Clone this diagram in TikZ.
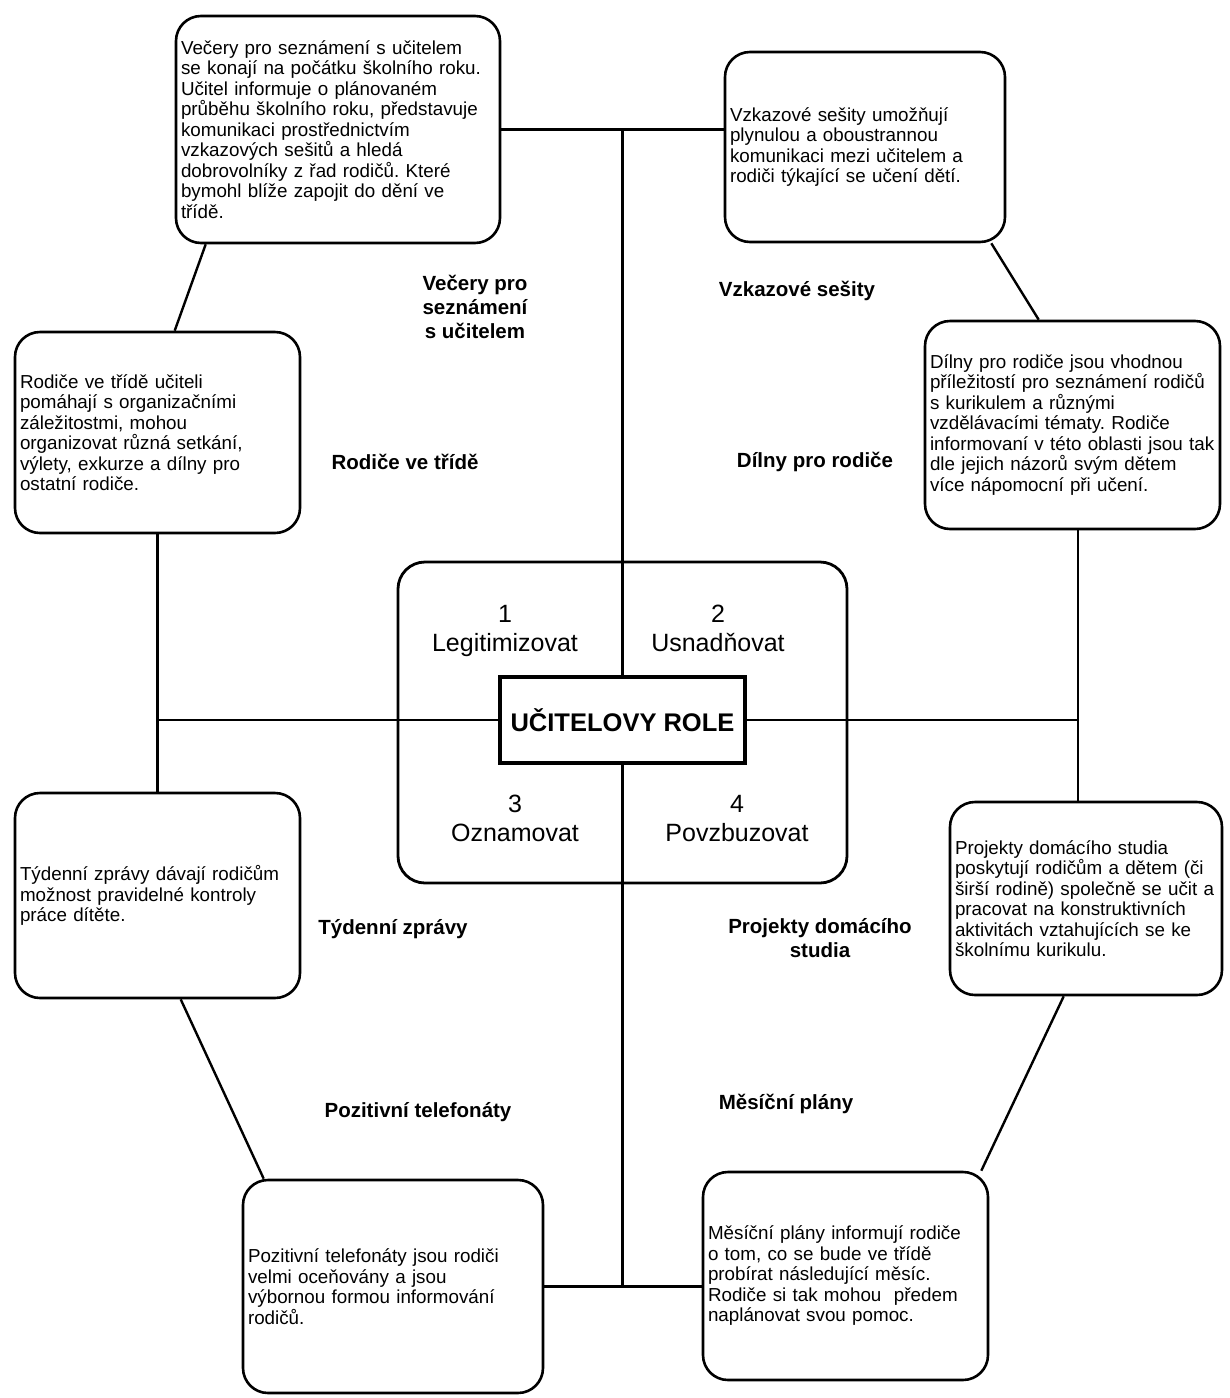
\documentclass[tikz,border=0pt]{standalone}
\usepackage{fontspec}
\setmainfont{Liberation Sans}
\usetikzlibrary{backgrounds}
\frenchspacing

\begin{document}
\begin{tikzpicture}[x=1pt,y=-1pt]
\tikzstyle{infobox}=[draw,fill=white,rounded corners=25pt,line width=2.6pt,inner xsep=5pt,inner ysep=0pt,align=left,font=\fontsize{18.8}{20.5}\selectfont]
\tikzstyle{title}=[align=center,font=\fontsize{20.5}{24}\selectfont\bfseries]
\tikzstyle{rolepart}=[anchor=north,align=center,font=\fontsize{25}{29}\selectfont]
\tikzstyle{link}=[line width=2.4pt]

\useasboundingbox (0,0) rectangle (1230,1398);

\node[infobox,text width=314pt,minimum height=227pt] (vecery) at (338,129.5) {Večery pro seznámení s učitelem\\
se konají na počátku školního roku.\\
Učitel informuje o plánovaném\\
průběhu školního roku, představuje\\
komunikaci prostřednictvím\\
vzkazových sešitů a hledá\\
dobrovolníky z řad rodičů. Které\\
bymohl blíže zapojit do dění ve\\
třídě.};
\node[infobox,text width=270pt,minimum height=190pt] (vzkazy) at (865,147) {Vzkazové sešity umožňují\\
plynulou a oboustrannou\\
komunikaci mezi učitelem a\\
rodiči týkající se učení dětí.};
\node[infobox,text width=275pt,minimum height=201pt] (rodice) at (157.5,432.5) {Rodiče ve třídě učiteli\\
pomáhají s organizačními\\
záležitostmi, mohou\\
organizovat různá setkání,\\
výlety, exkurze a dílny pro\\
ostatní rodiče.};
\node[infobox,text width=285pt,minimum height=208pt] (dilny) at (1072.5,425) {Dílny pro rodiče jsou vhodnou\\
příležitostí pro seznámení rodičů\\
s kurikulem a různými\\
vzdělávacími tématy. Rodiče\\
informovaní v této oblasti jsou tak\\
dle jejich názorů svým dětem\\
více nápomocní při učení.};
\node[infobox,text width=275pt,minimum height=205pt] (tydenni) at (157.5,895.5) {Týdenní zprávy dávají rodičům\\
možnost pravidelné kontroly\\
práce dítěte.};
\node[infobox,text width=262pt,minimum height=193pt] (projekty) at (1086,898.5) {Projekty domácího studia\\
poskytují rodičům a dětem (či\\
širší rodině) společně se učit a\\
pracovat na konstruktivních\\
aktivitách vztahujících se ke\\
školnímu kurikulu.};
\node[infobox,text width=290pt,minimum height=213pt] (telefonaty) at (393,1286.5) {Pozitivní telefonáty jsou rodiči\\
velmi oceňovány a jsou\\
výbornou formou informování\\
rodičů.};
\node[infobox,text width=275pt,minimum height=208pt] (plany) at (845.5,1276) {Měsíční plány informují rodiče\\
o tom, co se bude ve třídě\\
probírat následující měsíc.\\
Rodiče si tak mohou\ \ předem\\
naplánovat svou pomoc.};

\node[draw,rounded corners=27pt,line width=2.8pt,minimum width=449pt,minimum height=321pt] (hub) at (622.5,722.5) {};
\node[draw,fill=white,line width=4pt,minimum width=245pt,minimum height=86pt,font=\fontsize{25.5}{30}\selectfont\bfseries] (role) at (622.5,720) {UČITELOVY ROLE};
\coordinate (rx) at (1078,720);

\node[rolepart] (legit) at (505,601.5) {1\\Legitimizovat};
\node[rolepart] (usnad) at (718,601.5) {2\\Usnadňovat};
\node[rolepart] (oznam) at (515,791.5) {3\\Oznamovat};
\node[rolepart] (povzb) at (737,791.5) {4\\Povzbuzovat};

\node[title] (t-vecery) at (475,307) {Večery pro\\seznámení\\s učitelem};
\node[title] (t-vzkazy) at (797,291) {Vzkazové sešity};
\node[title] (t-rodice) at (405,462) {Rodiče ve třídě};
\node[title] (t-dilny) at (815,462) {Dílny pro rodiče};
\node[title] (t-tydenni) at (393,929) {Týdenní zprávy};
\node[title] (t-projekty) at (820,938) {Projekty domácího\\studia};
\node[title] (t-telefonaty) at (418,1112) {Pozitivní telefonáty};
\node[title] (t-plany) at (786,1104) {Měsíční plány};

\begin{pgfonlayer}{background}
\fill[white] (0,0) rectangle (1230,1398);
\path[draw,link] (vecery.east) -- (vecery.east -| vzkazy.west);
\path[draw,link] (role |- vecery.east) -- (role |- telefonaty.east);
\path[draw,link] (telefonaty.east) -- (telefonaty.east -| plany.west);
\path[draw,link] (rodice.south |- role) -- (rx);
\path[draw,link] (rodice.south) -- (tydenni.north);
\path[draw,link] (dilny.south -| rx) -- (projekty.north -| rx);
\path[draw,link] ([xshift=31pt]vecery.south west) -- ([xshift=161pt]rodice.north west);
\path[draw,link] ([xshift=-15pt]vzkazy.south east) -- ([xshift=115pt]dilny.north west);
\path[draw,link] ([xshift=167pt]tydenni.south west) -- ([xshift=22pt]telefonaty.north west);
\path[draw,link] ([xshift=115pt]projekty.south west) -- ([xshift=-8pt]plany.north east);
\end{pgfonlayer}
\end{tikzpicture}
\end{document}
